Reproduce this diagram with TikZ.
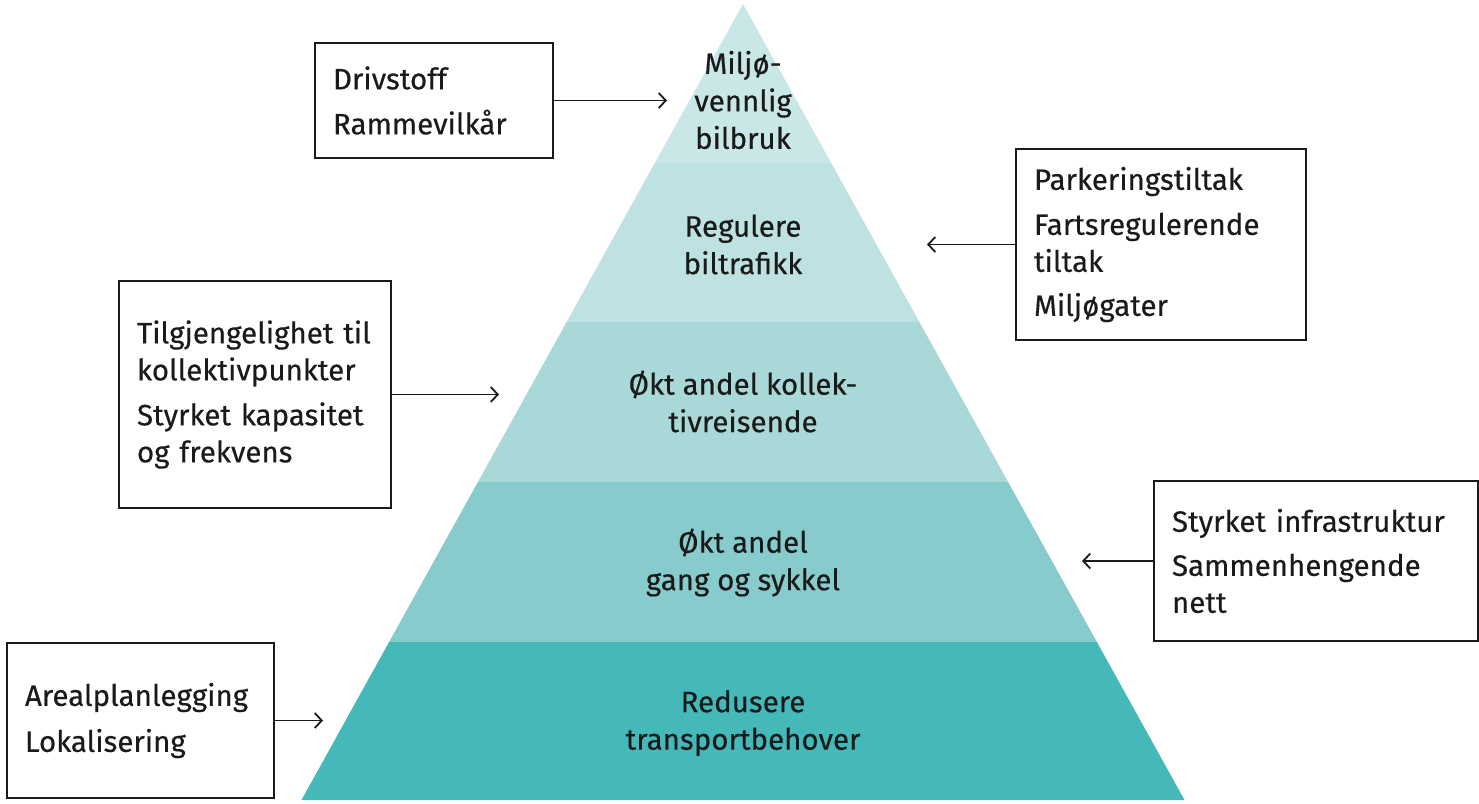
\documentclass[tikz,border=0pt]{standalone}
\usepackage{fontspec}
\setmainfont{Fira Sans}[FakeBold=0.35]
\usetikzlibrary{arrows.meta}
\definecolor{layA}{HTML}{C9E7E7}
\definecolor{layB}{HTML}{BEE2E2}
\definecolor{layC}{HTML}{A9D8D8}
\definecolor{layD}{HTML}{88CBCC}
\definecolor{layE}{HTML}{45B8BA}
\definecolor{ink}{HTML}{1A1A1A}
\begin{document}
\begin{tikzpicture}[x=1pt,y=-1pt,
  box/.style={draw=ink, line width=1.5pt, align=left, inner xsep=18pt, inner ysep=0pt,
    text=ink, font=\fontsize{29.5}{37}\selectfont},
  lbl/.style={align=center, text=ink, font=\fontsize{29.5}{37.5}\selectfont},
  arr/.style={draw=ink, line width=1.8pt, -{Straight Barb[length=7pt,width=15pt]}}]
\useasboundingbox (0,0) rectangle (1479,803);
% pyramid layers
\fill[layA] (743,4) -- (831.2,163) -- (654.8,163) -- cycle;
\fill[layB] (654.8,163) -- (831.2,163) -- (919.4,322) -- (566.6,322) -- cycle;
\fill[layC] (566.6,322) -- (919.4,322) -- (1008.1,482) -- (477.9,482) -- cycle;
\fill[layD] (477.9,482) -- (1008.1,482) -- (1096.9,642) -- (389.1,642) -- cycle;
\fill[layE] (389.1,642) -- (1096.9,642) -- (1184.5,800) -- (301.5,800) -- cycle;
% layer labels
\node[lbl] (l1) at (743,100) {Miljø-\\vennlig\\bilbruk};
\node[lbl] (l2) at (743,244.5) {Regulere\\biltrafikk};
\node[lbl] (l3) at (743,401.5) {Økt andel kollek-\\tivreisende};
\node[lbl] (l4) at (743,562.5) {Økt andel\\gang og sykkel};
\node[lbl] (l5) at (743,723) {Redusere\\transportbehover};
% boxes
\node[box, minimum width=238pt, minimum height=115pt, text width=202pt] (b1) at (434,100.5)
  {Drivstoff\\[8pt]Rammevilkår};
\node[box, minimum width=290pt, minimum height=191pt, text width=254pt] (b2) at (1161,244.5)
  {Parkeringstiltak\\[8pt]Fartsregulerende\\tiltak\\[7pt]Miljøgater};
\node[box, minimum width=272pt, minimum height=227pt, text width=236pt] (b3) at (255,394.5)
  {Tilgjengelighet til\\kollektivpunkter\\[8pt]Styrket kapasitet\\og frekvens};
\node[box, minimum width=324pt, minimum height=160pt, text width=288pt] (b4) at (1316,561)
  {Styrket infrastruktur\\[7pt]Sammenhengende\\nett};
\node[box, minimum width=267pt, minimum height=155pt, text width=231pt] (b5) at (140.5,720.5)
  {Arealplanlegging\\[9pt]Lokalisering};
% arrow ends
\coordinate (a1) at (667,100.5);
\coordinate (a2) at (927,244.5);
\coordinate (a3) at (499,394.5);
\coordinate (a4) at (1082,561);
\coordinate (a5) at (323,720.5);
\draw[arr] (b1.east) -- (a1);
\draw[arr] (b2.west) -- (a2);
\draw[arr] (b3.east) -- (a3);
\draw[arr] (b4.west) -- (a4);
\draw[arr] (b5.east) -- (a5);
\end{tikzpicture}
\end{document}
